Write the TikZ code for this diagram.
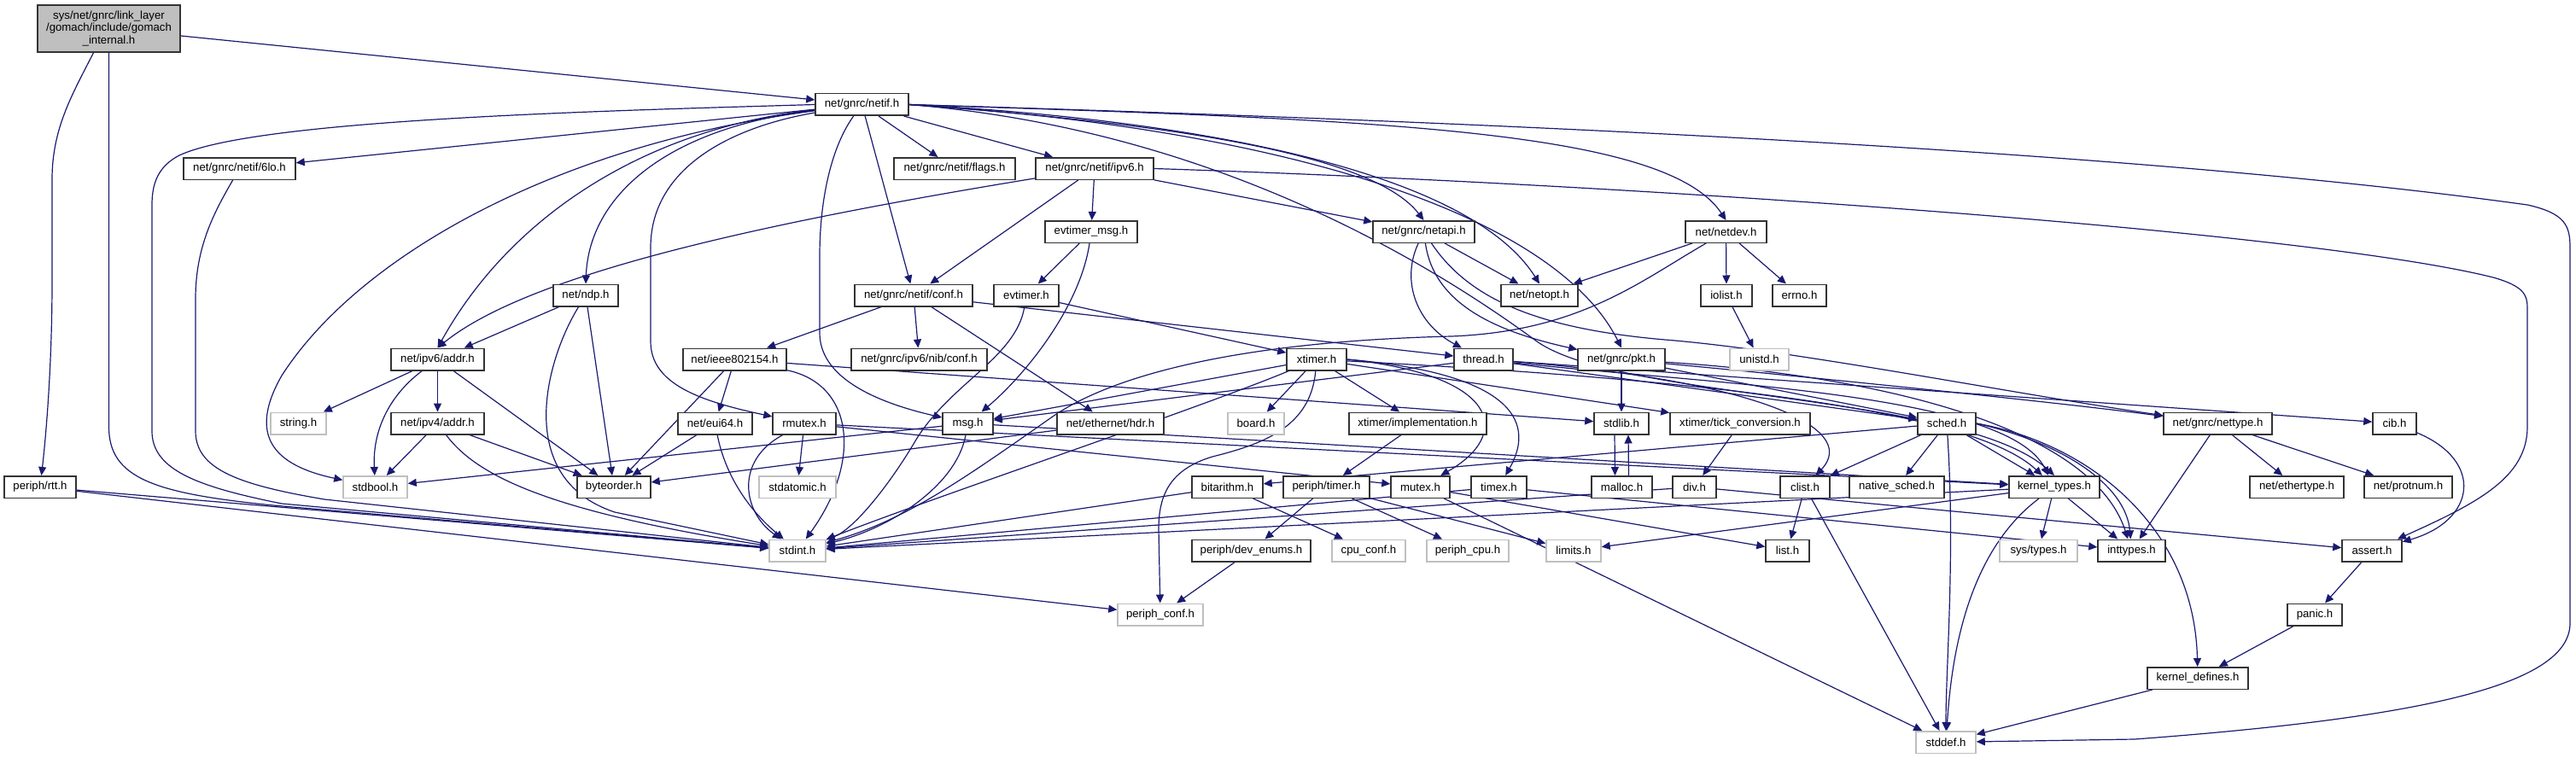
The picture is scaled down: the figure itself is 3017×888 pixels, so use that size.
\documentclass[tikz,border=0pt]{standalone}
\usepackage{fontspec}
\setmainfont{Liberation Sans}
\usetikzlibrary{arrows.meta}
\definecolor{edgec}{HTML}{191970}
\definecolor{graybd}{HTML}{BFBFBF}
\definecolor{rootfill}{HTML}{BFBFBF}
\pgfdeclarelayer{background}
\pgfsetlayers{background,main}
\tikzset{
  nb/.style={draw=black!80, line width=1.5pt, fill=white, minimum height=25.5pt,
    inner xsep=2pt, inner ysep=0pt, font=\fontsize{13.2}{15}\selectfont},
  ng/.style={nb, draw=graybd},
  edg/.style={draw=edgec, line width=1.2pt, -{Triangle[length=10pt,width=9pt]}},
}
\begin{document}
\begin{tikzpicture}[x=1pt,y=-1pt]
\useasboundingbox (0,0) rectangle (3017,888);
% nodes
\node[nb, fill=rootfill, minimum width=167pt, minimum height=55pt, align=center,
  font=\fontsize{13.2}{14.5}\selectfont] (root) at (127.5,33.5)
  {sys/net/gnrc/link\_layer\\/gomach/include/gomach\\\_internal.h};
\node[nb,minimum width=109pt] (netif) at (1009.5,122.5) {net/gnrc/netif.h};
\node[nb,minimum width=131pt] (lo6) at (280.5,197.5) {net/gnrc/netif/6lo.h};
\node[nb,minimum width=142pt] (flags) at (1118,197.5) {net/gnrc/netif/flags.h};
\node[nb,minimum width=138pt] (nipv6) at (1282,197.5) {net/gnrc/netif/ipv6.h};
\node[nb,minimum width=108pt] (evmsg) at (1278,271.5) {evtimer\_msg.h};
\node[nb,minimum width=119pt] (netapi) at (1667.5,271.5) {net/gnrc/netapi.h};
\node[nb,minimum width=95pt] (netdev) at (2021.5,271.5) {net/netdev.h};
\node[nb,minimum width=76pt] (ndp) at (686,346) {net/ndp.h};
\node[nb,minimum width=138pt] (nconf) at (1070,346) {net/gnrc/netif/conf.h};
\node[nb,minimum width=76pt] (evtimer) at (1202,346) {evtimer.h};
\node[nb,minimum width=90pt] (netopt) at (1803,346) {net/netopt.h};
\node[nb,minimum width=60pt] (iolist) at (2022,346) {iolist.h};
\node[nb,minimum width=63pt] (errno) at (2107.5,346) {errno.h};
\node[nb,minimum width=109pt] (ip6addr) at (512.5,421) {net/ipv6/addr.h};
\node[nb,minimum width=121pt] (ieee) at (860.5,421) {net/ieee802154.h};
\node[nb,minimum width=159pt] (nibconf) at (1076.5,421) {net/gnrc/ipv6/nib/conf.h};
\node[nb,minimum width=70pt] (xtimer) at (1542,421) {xtimer.h};
\node[nb,minimum width=69pt] (thread) at (1737.5,421) {thread.h};
\node[nb,minimum width=102pt] (pkt) at (1899,421) {net/gnrc/pkt.h};
\node[ng,minimum width=69pt] (unistd) at (2060.5,421) {unistd.h};
\node[ng,minimum width=65pt] (string) at (349.5,496) {string.h};
\node[nb,minimum width=109pt] (ip4addr) at (512.5,496) {net/ipv4/addr.h};
\node[nb,minimum width=87pt] (eui64) at (837.5,496) {net/eui64.h};
\node[nb,minimum width=74pt] (rmutex) at (942,496) {rmutex.h};
\node[nb,minimum width=59pt] (msg) at (1133.5,496) {msg.h};
\node[nb,minimum width=125pt] (ethhdr) at (1300.5,496) {net/ethernet/hdr.h};
\node[ng,minimum width=66pt] (board) at (1471,496) {board.h};
\node[nb,minimum width=161pt] (ximpl) at (1660.5,496) {xtimer/implementation.h};
\node[nb,minimum width=64pt] (stdlib) at (1899,496) {stdlib.h};
\node[nb,minimum width=164pt] (tickconv) at (2038,496) {xtimer/tick\_conversion.h};
\node[nb,minimum width=68pt] (sched) at (2280,496) {sched.h};
\node[nb,minimum width=127pt] (nettype) at (2597.5,496) {net/gnrc/nettype.h};
\node[nb,minimum width=51pt] (cib) at (2804.5,496) {cib.h};
\node[nb,minimum width=84pt] (rtt) at (47,570.5) {periph/rtt.h};
\node[ng,minimum width=75pt] (stdbool) at (439.5,570.5) {stdbool.h};
\node[nb,minimum width=86pt] (byteorder) at (719,570.5) {byteorder.h};
\node[ng,minimum width=90pt] (stdatomic) at (934,570.5) {stdatomic.h};
\node[nb,minimum width=83pt] (bitarithm) at (1437.5,570.5) {bitarithm.h};
\node[nb,minimum width=101pt] (ptimer) at (1553.5,570.5) {periph/timer.h};
\node[nb,minimum width=69pt] (mutex) at (1663.5,570.5) {mutex.h};
\node[nb,minimum width=65pt] (timex) at (1755.5,570.5) {timex.h};
\node[nb,minimum width=71pt] (malloc) at (1899.5,570.5) {malloc.h};
\node[nb,minimum width=51pt] (div) at (1984.5,570.5) {div.h};
\node[nb,minimum width=58pt] (clist) at (2114,570.5) {clist.h};
\node[nb,minimum width=111pt] (nsched) at (2221.5,570.5) {native\_sched.h};
\node[nb,minimum width=106pt] (ktypes) at (2406,570.5) {kernel\_types.h};
\node[nb,minimum width=110pt] (ethertype) at (2690,570.5) {net/ethertype.h};
\node[nb,minimum width=103pt] (protnum) at (2820.5,570.5) {net/protnum.h};
\node[ng,minimum width=66pt] (stdint) at (934,645) {stdint.h};
\node[nb,minimum width=139pt] (devenums) at (1465.5,645) {periph/dev\_enums.h};
\node[ng,minimum width=86pt] (cpuconf) at (1603,645) {cpu\_conf.h};
\node[ng,minimum width=96pt] (periphcpu) at (1719,645) {periph\_cpu.h};
\node[ng,minimum width=64pt] (limits) at (1843,645) {limits.h};
\node[nb,minimum width=51pt] (list) at (2093.5,645) {list.h};
\node[ng,minimum width=91pt] (systypes) at (2387.5,645) {sys/types.h};
\node[nb,minimum width=79pt] (inttypes) at (2496.5,645) {inttypes.h};
\node[nb,minimum width=70pt] (assert) at (2778,645) {assert.h};
\node[ng,minimum width=100pt] (periphconf) at (1359,720) {periph\_conf.h};
\node[nb,minimum width=64pt] (panic) at (2711,720) {panic.h};
\node[nb,minimum width=118pt] (kdefines) at (2574,794.5) {kernel\_defines.h};
\node[ng,minimum width=70pt] (stddef) at (2279,869.5) {stddef.h};
% edges
\begin{pgfonlayer}{background}
\draw[edg] (root) -- (netif);
\draw[edg] ([xshift=-18pt]root.south) .. controls (85,110) and (61,150) .. (61,210) -- (61,330) .. controls (61,420) and (55,500) .. (rtt);
\draw[edg] (root.south) -- (127.5,500) .. controls (127.5,560) and (180,578) .. (320,592) -- (stdint);
\draw[edg] (netif) -- (lo6);
\draw[edg] (netif) -- (flags);
\draw[edg] (netif) -- (nipv6);
\draw[edg] (netif) -- (nconf);
\draw[edg] (netif.west) .. controls (700,130) and (300,140) .. (210,182) .. controls (185,195) and (178,215) .. (178,240) -- (178,505) .. controls (178,550) and (230,570) .. (330,590) -- (stdint);
\draw[edg] (lo6) .. controls (250,250) and (229,290) .. (229,350) -- (229,505) .. controls (229,550) and (280,568) .. (380,585) -- (stdint);
\draw[edg] (netif) .. controls (780,150) and (690,230) .. (ndp.north);
\draw[edg] (netif) .. controls (760,150) and (600,250) .. (ip6addr.north);
\draw[edg] (netif) .. controls (650,170) and (420,300) .. (330,440) .. controls (290,510) and (320,545) .. (stdbool);
\draw[edg] (netif) .. controls (850,150) and (762,200) .. (762,290) -- (762,400) .. controls (762,450) and (820,470) .. (rmutex);
\draw[edg] (netif) .. controls (975,170) and (960,230) .. (960,300) -- (960,390) .. controls (960,440) and (1020,470) .. (msg);
\draw[edg] (netif.east) .. controls (1300,140) and (1600,170) .. (netapi.north);
\draw[edg] (netif.east) .. controls (1400,140) and (1720,200) .. (netopt.north);
\draw[edg] (netif.east) .. controls (1500,150) and (1820,250) .. (pkt.north);
\draw[edg] (netif.east) .. controls (1600,140) and (1950,150) .. (netdev.north);
\draw[edg] (netif.east) .. controls (1400,150) and (1650,290) .. (1800,400) .. controls (1900,470) and (2300,460) .. (ktypes.north);
\draw[edg] (netif.east) .. controls (2000,150) and (2600,190) .. (2960,240) .. controls (3005,250) and (3010,265) .. (3010,290) -- (3010,730) .. controls (3010,800) and (2850,840) .. (2500,866) -- (stddef);
\draw[edg] (nipv6.east) .. controls (1900,215) and (2700,270) .. (2920,325) .. controls (2955,335) and (2960,345) .. (2960,360) -- (2960,500) .. controls (2960,560) and (2900,590) .. (assert);
\draw[edg] (nipv6) -- (evmsg);
\draw[edg] (nipv6) -- (nconf);
\draw[edg] (nipv6) -- (netapi);
\draw[edg] (nipv6) .. controls (900,260) and (620,320) .. (ip6addr.north);
\draw[edg] (evmsg) -- (evtimer);
\draw[edg] (evmsg) .. controls (1265,360) and (1200,440) .. (msg);
\draw[edg] (evtimer) -- (xtimer);
\draw[edg] (evtimer) .. controls (1190,420) and (1110,450) .. (1070,520) .. controls (1040,570) and (1000,620) .. (stdint);
\draw[edg] (netapi) .. controls (1640,330) and (1660,380) .. (thread);
\draw[edg] (netapi) -- (netopt);
\draw[edg] (netapi) .. controls (1680,360) and (1760,390) .. (pkt);
\draw[edg] (netapi) .. controls (1720,350) and (1800,385) .. (1950,398) .. controls (2100,410) and (2350,460) .. (nettype);
\draw[edg] (netdev) -- (netopt);
\draw[edg] (netdev) -- (iolist);
\draw[edg] (netdev) -- (errno);
\draw[edg] (netdev) .. controls (1920,330) and (1850,388) .. (1700,394) .. controls (1450,400) and (1300,440) .. (1230,490) .. controls (1130,560) and (1060,610) .. (stdint);
\draw[edg] (iolist) -- (unistd);
\draw[edg] (ndp) -- (ip6addr);
\draw[edg] (ndp) -- (byteorder);
\draw[edg] (ndp) .. controls (640,420) and (600,560) .. (720,600) -- (stdint);
\draw[edg] (nconf) -- (ieee);
\draw[edg] (nconf) -- (nibconf);
\draw[edg] (nconf) -- (ethhdr);
\draw[edg] (nconf) -- (thread);
\draw[edg] (ieee) -- (byteorder);
\draw[edg] (ieee) -- (eui64);
\draw[edg] (ieee) .. controls (1000,450) and (1010,540) .. (stdint);
\draw[edg] (ieee) -- (stdlib);
\draw[edg] (ip6addr) -- (string);
\draw[edg] (ip6addr) .. controls (460,460) and (436,500) .. (stdbool);
\draw[edg] (ip6addr) -- (ip4addr);
\draw[edg] (ip6addr) -- (byteorder);
\draw[edg] (ip4addr) -- (stdbool);
\draw[edg] (ip4addr) -- (byteorder);
\draw[edg] (ip4addr) .. controls (560,560) and (650,600) .. (stdint);
\draw[edg] (eui64) -- (byteorder);
\draw[edg] (eui64) .. controls (850,560) and (880,600) .. (stdint);
\draw[edg] (rmutex) -- (stdatomic);
\draw[edg] (rmutex) .. controls (860,540) and (870,600) .. (stdint);
\draw[edg] (rmutex) -- (mutex);
\draw[edg] (rmutex) -- (ktypes);
\draw[edg] (msg) -- (stdbool);
\draw[edg] (msg) .. controls (1120,570) and (1040,620) .. (stdint);
\draw[edg] (msg) -- (ktypes);
\draw[edg] (ethhdr) -- (byteorder);
\draw[edg] (xtimer) -- (msg);
\draw[edg] (xtimer) -- (board);
\draw[edg] (xtimer) -- (ximpl);
\draw[edg] (xtimer) .. controls (1400,480) and (1100,580) .. (stdint);
\draw[edg] (xtimer) .. controls (1535,500) and (1480,520) .. (1420,535) .. controls (1370,550) and (1357,580) .. (1357,620) -- (periphconf);
\draw[edg] (xtimer.east) .. controls (1760,440) and (1770,510) .. (mutex);
\draw[edg] (xtimer.east) .. controls (1800,440) and (1790,510) .. (timex);
\draw[edg] (xtimer) -- (tickconv);
\draw[edg] (xtimer) .. controls (1900,440) and (2300,470) .. (ktypes);
\draw[edg] (thread) -- (msg);
\draw[edg] (thread) .. controls (2050,445) and (2180,500) .. (clist);
\draw[edg] (thread) -- (cib);
\draw[edg] (thread) -- (sched);
\draw[edg] (thread) .. controls (2000,450) and (2350,460) .. (ktypes);
\draw[edg] (pkt) -- (stdlib);
\draw[edg] (pkt) .. controls (2100,440) and (2400,470) .. (nettype);
\draw[edg] (pkt) -- (sched);
\draw[edg] (pkt) .. controls (2200,440) and (2450,500) .. (inttypes);
\draw[edg] ([xshift=-8pt]stdlib.south) -- ([xshift=-8pt]malloc.north);
\draw[edg] ([xshift=8pt]malloc.north) -- ([xshift=8pt]stdlib.south);
\draw[edg] (tickconv) -- (div);
\draw[edg] (ximpl) -- (ptimer);
\draw[edg] (sched) -- (clist);
\draw[edg] (sched) -- (nsched);
\draw[edg] (sched) -- (ktypes);
\draw[edg] (sched) .. controls (2290,650) and (2279,780) .. (stddef);
\draw[edg] (sched) -- (bitarithm);
\draw[edg] (sched.east) .. controls (2420,520) and (2490,570) .. (inttypes);
\draw[edg] (sched.east) .. controls (2450,520) and (2570,620) .. (kdefines);
\draw[edg] (bitarithm) -- (stdint);
\draw[edg] (bitarithm) -- (cpuconf);
\draw[edg] (ptimer) -- (devenums);
\draw[edg] (ptimer) -- (periphcpu);
\draw[edg] (ptimer) -- (limits);
\draw[edg] (mutex) -- (stddef);
\draw[edg] (mutex) -- (list);
\draw[edg] (timex) -- (stdint);
\draw[edg] (timex) -- (inttypes);
\draw[edg] (div) -- (assert);
\draw[edg] (div) -- (stdint);
\draw[edg] (clist) -- (list);
\draw[edg] (clist) -- (stddef);
\draw[edg] (ktypes) -- (stdint);
\draw[edg] (ktypes) -- (systypes);
\draw[edg] (ktypes) -- (inttypes);
\draw[edg] (ktypes) .. controls (2300,650) and (2285,780) .. (stddef);
\draw[edg] (ktypes) -- (limits);
\draw[edg] (nettype) -- (ethertype);
\draw[edg] (nettype) -- (protnum);
\draw[edg] (nettype) -- (inttypes);
\draw[edg] (cib) .. controls (2910,540) and (2900,610) .. (assert);
\draw[edg] (assert) -- (panic);
\draw[edg] (panic) -- (kdefines);
\draw[edg] (kdefines) -- (stddef);
\draw[edg] (devenums) -- (periphconf);
\draw[edg] (rtt) -- (stdint);
\draw[edg] (rtt) -- (periphconf);
\end{pgfonlayer}
\end{tikzpicture}
\end{document}
